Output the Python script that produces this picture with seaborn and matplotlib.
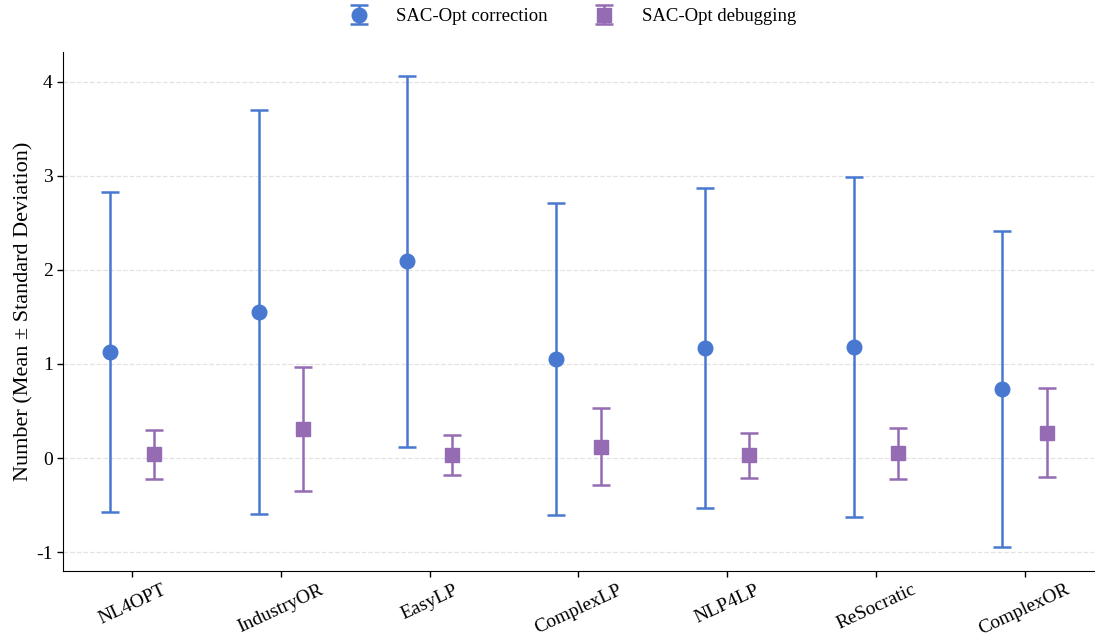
import numpy as np
import matplotlib
matplotlib.use("Agg")
import matplotlib.pyplot as plt
import seaborn as sns

datasets = ["NL4OPT", "IndustryOR", "EasyLP", "ComplexLP", "NLP4LP", "ReSocratic", "ComplexOR"]
corr_mean = [1.13, 1.55, 2.09, 1.05, 1.17, 1.18, 0.73]
corr_std = [1.70, 2.15, 1.97, 1.66, 1.70, 1.81, 1.68]
debug_mean = [0.04, 0.31, 0.03, 0.12, 0.03, 0.05, 0.27]
debug_std = [0.26, 0.66, 0.21, 0.41, 0.24, 0.27, 0.47]

sns.set_style("ticks", {"axes.edgecolor": "black", "text.color": "black",
                        "xtick.color": "black", "ytick.color": "black",
                        "axes.labelcolor": "black"})
plt.rcParams["font.family"] = ["Liberation Serif", "DejaVu Serif"]
plt.rcParams["axes.unicode_minus"] = False

pal = sns.color_palette("muted")
c_corr, c_debug = pal[0], pal[4]

fig, ax = plt.subplots(figsize=(10.96, 6.38), dpi=100)
x = np.arange(len(datasets))

ax.errorbar(x - 0.15, corr_mean, yerr=corr_std, fmt="o", color=c_corr, ms=10.5,
            capsize=6.5, elinewidth=1.8, capthick=1.8, label="SAC-Opt correction")
ax.errorbar(x + 0.15, debug_mean, yerr=debug_std, fmt="s", color=c_debug, ms=9.5,
            capsize=6.5, elinewidth=1.8, capthick=1.8, label="SAC-Opt debugging")

ax.set_xticks(x)
ax.set_xticklabels(datasets, rotation=25, fontsize=14)
ax.tick_params(axis="both", length=4, width=1)
ax.tick_params(axis="y", labelsize=14)
ax.set_ylabel("Number (Mean ± Standard Deviation)", fontsize=16, labelpad=2)
ax.yaxis.grid(True, linestyle="--", color="#e3e3e3", linewidth=0.9)
sns.despine(ax=ax)

ax.legend(loc="upper center", bbox_to_anchor=(0.49, 1.118), ncol=2, frameon=False,
          fontsize=13.5, columnspacing=2.0, handletextpad=1.0)

fig.subplots_adjust(left=0.0575, right=0.998, bottom=0.105, top=0.918)
fig.savefig("out.png", dpi=100)
